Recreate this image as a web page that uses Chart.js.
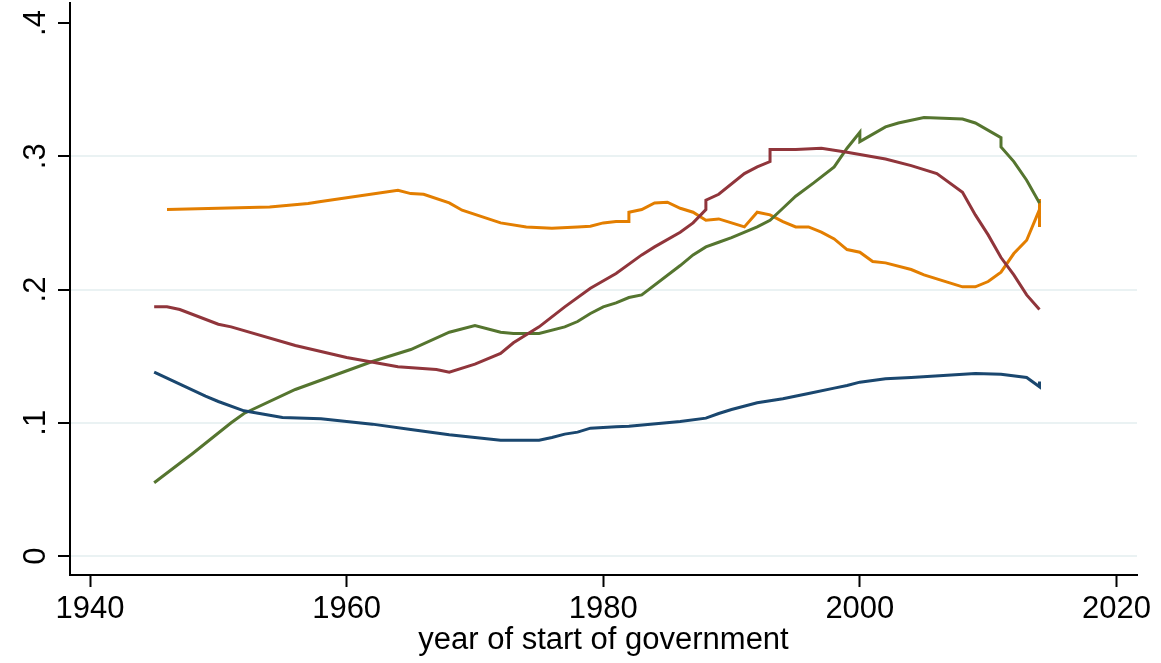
<!DOCTYPE html>
<html>
<head>
<meta charset="utf-8">
<script src="https://cdn.jsdelivr.net/npm/chart.js@4.4.1/dist/chart.umd.min.js"></script>
<style>
  html, body { margin: 0; padding: 0; background: #fff; }
  #wrap { width: 1161px; height: 663px; position: relative; }
</style>
</head>
<body>
<div id="wrap"><canvas id="chart"></canvas></div>
<script>
// ── data ──────────────────────────────────────────────────────────────────────
const xTicks = [1940, 1960, 1980, 2000, 2020];
const yTicks = [0, 0.1, 0.2, 0.3, 0.4];
const yTickLabels = ['0', '.1', '.2', '.3', '.4'];
const xTitle = 'year of start of government';

const navyYears  = [1945, 1947, 1949, 1950, 1952, 1955, 1958, 1962, 1965, 1968, 1972, 1975, 1976, 1977, 1978, 1979, 1981, 1982, 1986, 1988, 1989, 1990, 1992, 1994, 1996, 1998, 1999, 2000, 2002, 2004, 2009, 2011, 2013, 2014, 2014];
const navyValues = [.138, .129, .120, .116, .109, .104, .103, .099, .095, .091, .087, .087, .089, .0915, .093, .096, .097, .0975, .101, .1035, .107, .110, .115, .118, .122, .126, .128, .1305, .133, .134, .137, .1365, .134, .127, .131];

const maroonYears  = [1945, 1946, 1947, 1950, 1951, 1956, 1960, 1964, 1967, 1968, 1970, 1972, 1973, 1975, 1977, 1979, 1981, 1983, 1984, 1986, 1987, 1988, 1988, 1989, 1991, 1992, 1993, 1993, 1995, 1997, 1999, 2002, 2004, 2006, 2008, 2009, 2010, 2011, 2012, 2013, 2014];
const maroonValues = [.187, .187, .185, .174, .172, .158, .149, .142, .140, .138, .144, .152, .160, .172, .187, .201, .212, .226, .232, .243, .250, .260, .267, .2715, .287, .292, .296, .305, .305, .306, .303, .298, .293, .287, .273, .256, .241, .224, .211, .196, .185];

const greenYears  = [1945, 1948, 1951, 1952, 1956, 1962, 1965, 1968, 1970, 1972, 1973, 1975, 1977, 1978, 1979, 1980, 1981, 1982, 1983, 1986, 1987, 1988, 1989, 1990, 1992, 1993, 1994, 1995, 1996.4, 1998, 1999, 2000, 2000, 2002, 2003, 2005, 2008, 2009, 2011, 2011, 2012, 2013, 2014];
const greenValues = [.055, .077, .100, .107, .125, .146, .155, .168, .173, .168, .167, .167, .172, .176, .182, .187, .190, .194, .196, .218, .226, .232, .2355, .239, .247, .252, .261, .270, .280, .292, .306, .318, .311, .322, .325, .329, .328, .325, .314, .307, .296, .282, .265];

const orangeYears  = [1946, 1954, 1957, 1958, 1964, 1965, 1966, 1968, 1969, 1972, 1974, 1976, 1978, 1979, 1980, 1981, 1982, 1982, 1983, 1984, 1985, 1986, 1987, 1988, 1989, 1990, 1991, 1992, 1993, 1994, 1995, 1996, 1997, 1998, 1999, 2000, 2001, 2002, 2004, 2005, 2007, 2008, 2009, 2010, 2011, 2012, 2013, 2014, 2014, 2014];
const orangeValues = [.260, .262, .2645, .266, .2745, .272, .2715, .265, .2595, .250, .247, .246, .247, .2475, .250, .251, .251, .258, .260, .265, .2655, .261, .258, .252, .253, .250, .247, .258, .256, .251, .247, .247, .243, .238, .230, .228, .221, .220, .215, .211, .205, .202, .202, .206, .213, .227, .237, .260, .247, .268];

// ── helpers ───────────────────────────────────────────────────────────────────
const FONT = '"Liberation Sans", Arial, Helvetica, sans-serif';
const pts  = (xs, ys) => xs.map((x, i) => ({ x, y: ys[i] }));
const line = (xs, ys, color) => ({
    data: pts(xs, ys),
    borderColor: color,
    borderWidth: 3,
    pointRadius: 0,
    tension: 0,
    fill: false,
});

// y labels in Stata are rotated, Chart.js won't rotate them on a vertical axis
const rotatedYLabels = {
    id: 'rotatedYLabels',
    afterDraw(chart) {
        const { ctx, scales: { y } } = chart;
        ctx.save();
        ctx.fillStyle = '#000';
        ctx.font = '31px ' + FONT;
        ctx.textAlign = 'center';
        ctx.textBaseline = 'alphabetic';
        yTicks.forEach((v, i) => {
            ctx.save();
            ctx.translate(45, y.getPixelForValue(v));
            ctx.rotate(-Math.PI / 2);
            ctx.fillText(yTickLabels[i], 0, 0);
            ctx.restore();
        });
        ctx.restore();
    }
};

new Chart(document.getElementById('chart'), {
    type: 'line',
    data: {
        datasets: [
            line(navyYears,   navyValues,   '#1a476f'),
            line(maroonYears, maroonValues, '#90353b'),
            line(greenYears,  greenValues,  '#55752f'),
            line(orangeYears, orangeValues, '#e37e00'),
        ]
    },
    options: {
        responsive: true, maintainAspectRatio: false, animation: false,
        layout: { padding: { top: 3, right: 24, left: 0, bottom: 0 } },
        plugins: { legend: { display: false }, tooltip: { enabled: false } },
        scales: {
            x: {
                type: 'linear', min: 1938.44, max: 2021.6,
                afterBuildTicks: s => { s.ticks = xTicks.map(v => ({ value: v })); },
                afterFit: s => { s.height = 88; },
                ticks: { color: '#000', font: { family: FONT, size: 31 }, padding: 4, maxRotation: 0, callback: v => String(v) },
                grid: { drawOnChartArea: false, tickLength: 12, tickColor: '#000', tickWidth: 2 },
                border: { color: '#000', width: 2 },
                title: { display: true, text: xTitle, color: '#000', font: { family: FONT, size: 31 }, padding: { top: 0, bottom: 4 } }
            },
            y: {
                min: -0.0142, max: 0.415,
                afterBuildTicks: s => { s.ticks = yTicks.map(v => ({ value: v })); },
                afterFit: s => { s.width = 70; },
                ticks: { display: false },
                grid: {
                    color: c => (c.tick && c.tick.value === 0.4) ? 'rgba(0,0,0,0)' : '#eaf2f3',
                    lineWidth: 2, tickLength: 12, tickColor: '#000', tickWidth: 2
                },
                border: { color: '#000', width: 2 }
            }
        }
    },
    plugins: [rotatedYLabels]
});
</script>
</body>
</html>
